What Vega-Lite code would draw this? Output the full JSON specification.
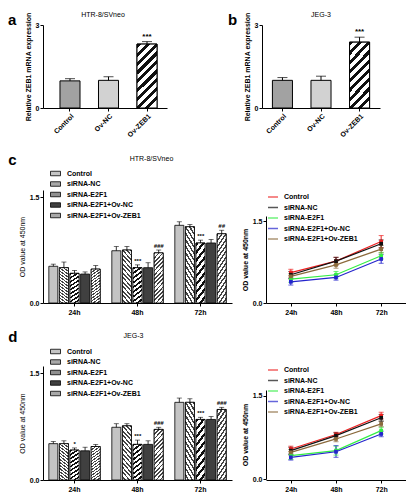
{
"$schema": "https://vega.github.io/schema/vega-lite/v6.json",
"background": "white",
"padding": {"left": 8, "top": 11, "right": 0, "bottom": 0},
"spacing": 15,
"resolve": {"scale": {"color": "independent", "fill": "independent"}, "legend": {"color": "independent", "fill": "independent"}},
"datasets": {
"a": [
{"group": "Control", "value": 0.98, "hi": 1.06, "sig": ""},
{"group": "Ov-NC", "value": 1.0, "hi": 1.13, "sig": ""},
{"group": "Ov-ZEB1", "value": 2.31, "hi": 2.4, "sig": "***"}
],
"b": [
{"group": "Control", "value": 1.0, "hi": 1.1, "sig": ""},
{"group": "Ov-NC", "value": 1.0, "hi": 1.15, "sig": ""},
{"group": "Ov-ZEB1", "value": 2.38, "hi": 2.56, "sig": "***"}
],
"cbar": [
{"time": "24h", "group": "Control", "value": 0.52, "hi": 0.55, "sig": ""},
{"time": "24h", "group": "siRNA-NC", "value": 0.50, "hi": 0.58, "sig": ""},
{"time": "24h", "group": "siRNA-E2F1", "value": 0.42, "hi": 0.46, "sig": ""},
{"time": "24h", "group": "siRNA-E2F1+Ov-NC", "value": 0.41, "hi": 0.44, "sig": ""},
{"time": "24h", "group": "siRNA-E2F1+Ov-ZEB1", "value": 0.48, "hi": 0.53, "sig": ""},
{"time": "48h", "group": "Control", "value": 0.74, "hi": 0.80, "sig": ""},
{"time": "48h", "group": "siRNA-NC", "value": 0.75, "hi": 0.80, "sig": ""},
{"time": "48h", "group": "siRNA-E2F1", "value": 0.50, "hi": 0.54, "sig": "***"},
{"time": "48h", "group": "siRNA-E2F1+Ov-NC", "value": 0.50, "hi": 0.57, "sig": ""},
{"time": "48h", "group": "siRNA-E2F1+Ov-ZEB1", "value": 0.71, "hi": 0.75, "sig": "###"},
{"time": "72h", "group": "Control", "value": 1.10, "hi": 1.15, "sig": ""},
{"time": "72h", "group": "siRNA-NC", "value": 1.08, "hi": 1.11, "sig": ""},
{"time": "72h", "group": "siRNA-E2F1", "value": 0.85, "hi": 0.89, "sig": "***"},
{"time": "72h", "group": "siRNA-E2F1+Ov-NC", "value": 0.85, "hi": 0.90, "sig": ""},
{"time": "72h", "group": "siRNA-E2F1+Ov-ZEB1", "value": 0.98, "hi": 1.03, "sig": "##"}
],
"dbar": [
{"time": "24h", "group": "Control", "value": 0.51, "hi": 0.54, "sig": ""},
{"time": "24h", "group": "siRNA-NC", "value": 0.51, "hi": 0.55, "sig": ""},
{"time": "24h", "group": "siRNA-E2F1", "value": 0.42, "hi": 0.45, "sig": "*"},
{"time": "24h", "group": "siRNA-E2F1+Ov-NC", "value": 0.41, "hi": 0.46, "sig": ""},
{"time": "24h", "group": "siRNA-E2F1+Ov-ZEB1", "value": 0.47, "hi": 0.50, "sig": ""},
{"time": "48h", "group": "Control", "value": 0.74, "hi": 0.79, "sig": ""},
{"time": "48h", "group": "siRNA-NC", "value": 0.76, "hi": 0.79, "sig": ""},
{"time": "48h", "group": "siRNA-E2F1", "value": 0.50, "hi": 0.56, "sig": "***"},
{"time": "48h", "group": "siRNA-E2F1+Ov-NC", "value": 0.50, "hi": 0.55, "sig": ""},
{"time": "48h", "group": "siRNA-E2F1+Ov-ZEB1", "value": 0.71, "hi": 0.74, "sig": "###"},
{"time": "72h", "group": "Control", "value": 1.09, "hi": 1.15, "sig": ""},
{"time": "72h", "group": "siRNA-NC", "value": 1.09, "hi": 1.14, "sig": ""},
{"time": "72h", "group": "siRNA-E2F1", "value": 0.85, "hi": 0.88, "sig": "***"},
{"time": "72h", "group": "siRNA-E2F1+Ov-NC", "value": 0.85, "hi": 0.89, "sig": ""},
{"time": "72h", "group": "siRNA-E2F1+Ov-ZEB1", "value": 0.99, "hi": 1.02, "sig": "###"}
],
"cline": [
{"time": "24h", "group": "Control", "value": 0.56, "lo": 0.50, "hi": 0.62},
{"time": "48h", "group": "Control", "value": 0.77, "lo": 0.70, "hi": 0.84},
{"time": "72h", "group": "Control", "value": 1.13, "lo": 1.02, "hi": 1.24},
{"time": "24h", "group": "siRNA-NC", "value": 0.52, "lo": 0.46, "hi": 0.58},
{"time": "48h", "group": "siRNA-NC", "value": 0.77, "lo": 0.70, "hi": 0.84},
{"time": "72h", "group": "siRNA-NC", "value": 1.09, "lo": 1.01, "hi": 1.16},
{"time": "24h", "group": "siRNA-E2F1", "value": 0.44, "lo": 0.38, "hi": 0.50},
{"time": "48h", "group": "siRNA-E2F1", "value": 0.52, "lo": 0.46, "hi": 0.58},
{"time": "72h", "group": "siRNA-E2F1", "value": 0.87, "lo": 0.81, "hi": 0.93},
{"time": "24h", "group": "siRNA-E2F1+Ov-NC", "value": 0.39, "lo": 0.33, "hi": 0.45},
{"time": "48h", "group": "siRNA-E2F1+Ov-NC", "value": 0.47, "lo": 0.42, "hi": 0.52},
{"time": "72h", "group": "siRNA-E2F1+Ov-NC", "value": 0.81, "lo": 0.73, "hi": 0.89},
{"time": "24h", "group": "siRNA-E2F1+Ov-ZEB1", "value": 0.49, "lo": 0.44, "hi": 0.54},
{"time": "48h", "group": "siRNA-E2F1+Ov-ZEB1", "value": 0.70, "lo": 0.64, "hi": 0.76},
{"time": "72h", "group": "siRNA-E2F1+Ov-ZEB1", "value": 0.99, "lo": 0.92, "hi": 1.06}
],
"dline": [
{"time": "24h", "group": "Control", "value": 0.54, "lo": 0.49, "hi": 0.59},
{"time": "48h", "group": "Control", "value": 0.80, "lo": 0.76, "hi": 0.84},
{"time": "72h", "group": "Control", "value": 1.14, "lo": 1.08, "hi": 1.20},
{"time": "24h", "group": "siRNA-NC", "value": 0.51, "lo": 0.45, "hi": 0.57},
{"time": "48h", "group": "siRNA-NC", "value": 0.78, "lo": 0.73, "hi": 0.83},
{"time": "72h", "group": "siRNA-NC", "value": 1.10, "lo": 1.04, "hi": 1.16},
{"time": "24h", "group": "siRNA-E2F1", "value": 0.42, "lo": 0.35, "hi": 0.49},
{"time": "48h", "group": "siRNA-E2F1", "value": 0.51, "lo": 0.43, "hi": 0.59},
{"time": "72h", "group": "siRNA-E2F1", "value": 0.87, "lo": 0.81, "hi": 0.93},
{"time": "24h", "group": "siRNA-E2F1+Ov-NC", "value": 0.39, "lo": 0.34, "hi": 0.44},
{"time": "48h", "group": "siRNA-E2F1+Ov-NC", "value": 0.49, "lo": 0.39, "hi": 0.60},
{"time": "72h", "group": "siRNA-E2F1+Ov-NC", "value": 0.81, "lo": 0.76, "hi": 0.86},
{"time": "24h", "group": "siRNA-E2F1+Ov-ZEB1", "value": 0.48, "lo": 0.43, "hi": 0.53},
{"time": "48h", "group": "siRNA-E2F1+Ov-ZEB1", "value": 0.72, "lo": 0.67, "hi": 0.77},
{"time": "72h", "group": "siRNA-E2F1+Ov-ZEB1", "value": 0.99, "lo": 0.94, "hi": 1.04}
]
},
"config": {
"view": {"stroke": null},
"font": "Liberation Sans",
"axis": {"domainColor": "#000", "tickColor": "#000", "labelColor": "#000", "titleColor": "#000", "labelFontSize": 7, "labelFontWeight": "bold", "titleFontSize": 7, "titleFontWeight": "bold", "tickSize": 3, "grid": false, "labelPadding": 1, "titlePadding": 4, "domainWidth": 1, "tickWidth": 1, "labelFont": "Liberation Sans", "titleFont": "Liberation Sans"},
"title": {"fontSize": 7, "fontWeight": "normal", "color": "#000", "font": "Liberation Sans"},
"legend": {"labelFontSize": 7, "labelFontWeight": "bold", "labelColor": "#000", "labelFont": "Liberation Sans"}
},
"vconcat": [
{
"title": {"text": "a", "anchor": "start", "frame": "bounds", "fontSize": 15, "fontWeight": "bold", "dx": -16, "offset": -17},
"spacing": 61,
"resolve": {"scale": {"color": "independent", "fill": "independent"}, "legend": {"color": "independent", "fill": "independent"}},
"hconcat": [
{
"width": 124, "height": 83,
"data": {"name": "a"},
"title": {"text": "HTR-8/SVneo", "frame": "group", "offset": -6, "dx": -2},
"encoding": {"x": {"field": "group", "type": "nominal", "sort": ["Control", "Ov-NC", "Ov-ZEB1"], "scale": {"paddingInner": 0.48, "paddingOuter": 0.35, "align": 0.63}, "axis": {"title": null, "labelAngle": -45}}},
"layer": [
{"mark": {"type": "bar", "stroke": "#000", "strokeWidth": 1}, "encoding": {"y": {"field": "value", "type": "quantitative", "scale": {"domain": [0, 3]}, "axis": {"values": [0, 1, 2, 3]}, "title": "Relative ZEB1 mRNA expression"}, "fill": {"field": "group", "type": "nominal", "scale": {"domain": ["Control", "Ov-NC", "Ov-ZEB1"], "range": ["#a2a2a2", "#d2d2d2", "#8a8a8a"]}, "legend": null}}},
{"transform": [{"filter": {"field": "group", "equal": "Ov-ZEB1"}}], "mark": {"type": "bar", "stroke": "#000", "strokeWidth": 1, "fill": {"gradient": "linear", "x1": 0, "y1": 0, "x2": 0.36, "y2": 1.15, "stops": [{"offset": 0, "color": "#111"}, {"offset": 0.05, "color": "#111"}, {"offset": 0.05, "color": "#fff"}, {"offset": 0.111, "color": "#fff"}, {"offset": 0.111, "color": "#111"}, {"offset": 0.161, "color": "#111"}, {"offset": 0.161, "color": "#fff"}, {"offset": 0.222, "color": "#fff"}, {"offset": 0.222, "color": "#111"}, {"offset": 0.272, "color": "#111"}, {"offset": 0.272, "color": "#fff"}, {"offset": 0.333, "color": "#fff"}, {"offset": 0.333, "color": "#111"}, {"offset": 0.383, "color": "#111"}, {"offset": 0.383, "color": "#fff"}, {"offset": 0.444, "color": "#fff"}, {"offset": 0.444, "color": "#111"}, {"offset": 0.494, "color": "#111"}, {"offset": 0.494, "color": "#fff"}, {"offset": 0.556, "color": "#fff"}, {"offset": 0.556, "color": "#111"}, {"offset": 0.606, "color": "#111"}, {"offset": 0.606, "color": "#fff"}, {"offset": 0.667, "color": "#fff"}, {"offset": 0.667, "color": "#111"}, {"offset": 0.717, "color": "#111"}, {"offset": 0.717, "color": "#fff"}, {"offset": 0.778, "color": "#fff"}, {"offset": 0.778, "color": "#111"}, {"offset": 0.828, "color": "#111"}, {"offset": 0.828, "color": "#fff"}, {"offset": 0.889, "color": "#fff"}, {"offset": 0.889, "color": "#111"}, {"offset": 0.939, "color": "#111"}, {"offset": 0.939, "color": "#fff"}, {"offset": 1, "color": "#fff"}]}}, "encoding": {"y": {"field": "value", "type": "quantitative", "title": "Relative ZEB1 mRNA expression"}}},
{"mark": {"type": "rule", "color": "#000"}, "encoding": {"y": {"field": "value", "type": "quantitative", "title": "Relative ZEB1 mRNA expression"}, "y2": {"field": "hi"}}},
{"mark": {"type": "tick", "color": "#000", "thickness": 1, "size": 10}, "encoding": {"y": {"field": "hi", "type": "quantitative", "title": "Relative ZEB1 mRNA expression"}}},
{"mark": {"type": "text", "baseline": "bottom", "dy": -1, "fontSize": 8, "fontWeight": "bold"}, "encoding": {"y": {"field": "hi", "type": "quantitative", "title": "Relative ZEB1 mRNA expression"}, "text": {"field": "sig"}}}
]
},
{
"title": {"text": "b", "anchor": "start", "frame": "bounds", "fontSize": 15, "fontWeight": "bold", "dx": -15, "offset": -17},
"resolve": {"scale": {"color": "independent", "fill": "independent"}, "legend": {"color": "independent", "fill": "independent"}},
"vconcat": [
{
"width": 118, "height": 83,
"data": {"name": "b"},
"title": {"text": "JEG-3", "frame": "group", "offset": -6},
"encoding": {"x": {"field": "group", "type": "nominal", "sort": ["Control", "Ov-NC", "Ov-ZEB1"], "scale": {"paddingInner": 0.48, "paddingOuter": 0.27}, "axis": {"title": null, "labelAngle": -45}}},
"layer": [
{"mark": {"type": "bar", "stroke": "#000", "strokeWidth": 1}, "encoding": {"y": {"field": "value", "type": "quantitative", "scale": {"domain": [0, 3]}, "axis": {"values": [0, 1, 2, 3]}, "title": "Relative ZEB1 mRNA expression"}, "fill": {"field": "group", "type": "nominal", "scale": {"domain": ["Control", "Ov-NC", "Ov-ZEB1"], "range": ["#a2a2a2", "#d2d2d2", "#8a8a8a"]}, "legend": null}}},
{"transform": [{"filter": {"field": "group", "equal": "Ov-ZEB1"}}], "mark": {"type": "bar", "stroke": "#000", "strokeWidth": 1, "fill": {"gradient": "linear", "x1": 0, "y1": 0, "x2": 0.36, "y2": 1.15, "stops": [{"offset": 0, "color": "#111"}, {"offset": 0.05, "color": "#111"}, {"offset": 0.05, "color": "#fff"}, {"offset": 0.111, "color": "#fff"}, {"offset": 0.111, "color": "#111"}, {"offset": 0.161, "color": "#111"}, {"offset": 0.161, "color": "#fff"}, {"offset": 0.222, "color": "#fff"}, {"offset": 0.222, "color": "#111"}, {"offset": 0.272, "color": "#111"}, {"offset": 0.272, "color": "#fff"}, {"offset": 0.333, "color": "#fff"}, {"offset": 0.333, "color": "#111"}, {"offset": 0.383, "color": "#111"}, {"offset": 0.383, "color": "#fff"}, {"offset": 0.444, "color": "#fff"}, {"offset": 0.444, "color": "#111"}, {"offset": 0.494, "color": "#111"}, {"offset": 0.494, "color": "#fff"}, {"offset": 0.556, "color": "#fff"}, {"offset": 0.556, "color": "#111"}, {"offset": 0.606, "color": "#111"}, {"offset": 0.606, "color": "#fff"}, {"offset": 0.667, "color": "#fff"}, {"offset": 0.667, "color": "#111"}, {"offset": 0.717, "color": "#111"}, {"offset": 0.717, "color": "#fff"}, {"offset": 0.778, "color": "#fff"}, {"offset": 0.778, "color": "#111"}, {"offset": 0.828, "color": "#111"}, {"offset": 0.828, "color": "#fff"}, {"offset": 0.889, "color": "#fff"}, {"offset": 0.889, "color": "#111"}, {"offset": 0.939, "color": "#111"}, {"offset": 0.939, "color": "#fff"}, {"offset": 1, "color": "#fff"}]}}, "encoding": {"y": {"field": "value", "type": "quantitative", "title": "Relative ZEB1 mRNA expression"}}},
{"mark": {"type": "rule", "color": "#000"}, "encoding": {"y": {"field": "value", "type": "quantitative", "title": "Relative ZEB1 mRNA expression"}, "y2": {"field": "hi"}}},
{"mark": {"type": "tick", "color": "#000", "thickness": 1, "size": 10}, "encoding": {"y": {"field": "hi", "type": "quantitative", "title": "Relative ZEB1 mRNA expression"}}},
{"mark": {"type": "text", "baseline": "bottom", "dy": -1, "fontSize": 8, "fontWeight": "bold"}, "encoding": {"y": {"field": "hi", "type": "quantitative", "title": "Relative ZEB1 mRNA expression"}, "text": {"field": "sig"}}}
]
}
]
}
]
},
{
"title": {"text": "c", "anchor": "start", "frame": "bounds", "fontSize": 15, "fontWeight": "bold", "dx": -10, "offset": -13},
"spacing": 9,
"resolve": {"scale": {"color": "independent", "fill": "independent"}, "legend": {"color": "independent", "fill": "independent"}},
"hconcat": [
{
"width": 189, "height": 113,
"data": {"name": "cbar"},
"title": {"text": "HTR-8/SVneo", "frame": "group", "offset": 6, "dx": 14},
"encoding": {
"x": {"field": "time", "type": "nominal", "scale": {"paddingInner": 0, "paddingOuter": 0}, "axis": {"title": null, "labelAngle": 0, "labelPadding": 2}},
"xOffset": {"field": "group", "type": "nominal", "sort": ["Control", "siRNA-NC", "siRNA-E2F1", "siRNA-E2F1+Ov-NC", "siRNA-E2F1+Ov-ZEB1"], "scale": {"domain": ["Control", "siRNA-NC", "siRNA-E2F1", "siRNA-E2F1+Ov-NC", "siRNA-E2F1+Ov-ZEB1"], "paddingInner": 0.15, "paddingOuter": 0.55}}
},
"layer": [
{"mark": {"type": "bar", "stroke": "#000", "strokeWidth": 0.8}, "encoding": {"y": {"field": "value", "type": "quantitative", "scale": {"domain": [0, 1.5]}, "axis": {"values": [0, 0.5, 1, 1.5], "format": ".1f", "titleFontWeight": "normal"}, "title": "OD value at 450nm"}, "fill": {"field": "group", "type": "nominal", "scale": {"domain": ["Control", "siRNA-NC", "siRNA-E2F1", "siRNA-E2F1+Ov-NC", "siRNA-E2F1+Ov-ZEB1"], "range": ["#c4c4c4", "#a8a8a8", "#909090", "#404040", "#a8a8a8"]}, "legend": {"title": null, "orient": "none", "legendX": 7, "legendY": -22, "symbolType": "M-1,-0.45L1,-0.45L1,0.45L-1,0.45Z", "symbolSize": 100, "symbolStrokeColor": "#000", "symbolStrokeWidth": 0.8, "rowPadding": 0.5, "labelOffset": 6}}}},
{"transform": [{"filter": {"field": "group", "equal": "siRNA-NC"}}], "mark": {"type": "bar", "stroke": "#000", "strokeWidth": 0.8, "fill": {"gradient": "linear", "x1": 1, "y1": 0, "x2": 0.78, "y2": 1.15, "stops": [{"offset": 0, "color": "#444"}, {"offset": 0.03, "color": "#444"}, {"offset": 0.03, "color": "#fff"}, {"offset": 0.0714, "color": "#fff"}, {"offset": 0.0714, "color": "#444"}, {"offset": 0.1014, "color": "#444"}, {"offset": 0.1014, "color": "#fff"}, {"offset": 0.1429, "color": "#fff"}, {"offset": 0.1429, "color": "#444"}, {"offset": 0.1729, "color": "#444"}, {"offset": 0.1729, "color": "#fff"}, {"offset": 0.2143, "color": "#fff"}, {"offset": 0.2143, "color": "#444"}, {"offset": 0.2443, "color": "#444"}, {"offset": 0.2443, "color": "#fff"}, {"offset": 0.2857, "color": "#fff"}, {"offset": 0.2857, "color": "#444"}, {"offset": 0.3157, "color": "#444"}, {"offset": 0.3157, "color": "#fff"}, {"offset": 0.3571, "color": "#fff"}, {"offset": 0.3571, "color": "#444"}, {"offset": 0.3871, "color": "#444"}, {"offset": 0.3871, "color": "#fff"}, {"offset": 0.4286, "color": "#fff"}, {"offset": 0.4286, "color": "#444"}, {"offset": 0.4586, "color": "#444"}, {"offset": 0.4586, "color": "#fff"}, {"offset": 0.5, "color": "#fff"}, {"offset": 0.5, "color": "#444"}, {"offset": 0.53, "color": "#444"}, {"offset": 0.53, "color": "#fff"}, {"offset": 0.5714, "color": "#fff"}, {"offset": 0.5714, "color": "#444"}, {"offset": 0.6014, "color": "#444"}, {"offset": 0.6014, "color": "#fff"}, {"offset": 0.6429, "color": "#fff"}, {"offset": 0.6429, "color": "#444"}, {"offset": 0.6729, "color": "#444"}, {"offset": 0.6729, "color": "#fff"}, {"offset": 0.7143, "color": "#fff"}, {"offset": 0.7143, "color": "#444"}, {"offset": 0.7443, "color": "#444"}, {"offset": 0.7443, "color": "#fff"}, {"offset": 0.7857, "color": "#fff"}, {"offset": 0.7857, "color": "#444"}, {"offset": 0.8157, "color": "#444"}, {"offset": 0.8157, "color": "#fff"}, {"offset": 0.8571, "color": "#fff"}, {"offset": 0.8571, "color": "#444"}, {"offset": 0.8871, "color": "#444"}, {"offset": 0.8871, "color": "#fff"}, {"offset": 0.9286, "color": "#fff"}, {"offset": 0.9286, "color": "#444"}, {"offset": 0.9586, "color": "#444"}, {"offset": 0.9586, "color": "#fff"}, {"offset": 1, "color": "#fff"}]}}, "encoding": {"y": {"field": "value", "type": "quantitative", "title": "OD value at 450nm"}}},
{"transform": [{"filter": {"field": "group", "equal": "siRNA-E2F1"}}], "mark": {"type": "bar", "stroke": "#000", "strokeWidth": 0.8, "fill": {"gradient": "linear", "x1": 0, "y1": 0, "x2": 0.22, "y2": 1.15, "stops": [{"offset": 0, "color": "#111"}, {"offset": 0.05, "color": "#111"}, {"offset": 0.05, "color": "#fff"}, {"offset": 0.111, "color": "#fff"}, {"offset": 0.111, "color": "#111"}, {"offset": 0.161, "color": "#111"}, {"offset": 0.161, "color": "#fff"}, {"offset": 0.222, "color": "#fff"}, {"offset": 0.222, "color": "#111"}, {"offset": 0.272, "color": "#111"}, {"offset": 0.272, "color": "#fff"}, {"offset": 0.333, "color": "#fff"}, {"offset": 0.333, "color": "#111"}, {"offset": 0.383, "color": "#111"}, {"offset": 0.383, "color": "#fff"}, {"offset": 0.444, "color": "#fff"}, {"offset": 0.444, "color": "#111"}, {"offset": 0.494, "color": "#111"}, {"offset": 0.494, "color": "#fff"}, {"offset": 0.556, "color": "#fff"}, {"offset": 0.556, "color": "#111"}, {"offset": 0.606, "color": "#111"}, {"offset": 0.606, "color": "#fff"}, {"offset": 0.667, "color": "#fff"}, {"offset": 0.667, "color": "#111"}, {"offset": 0.717, "color": "#111"}, {"offset": 0.717, "color": "#fff"}, {"offset": 0.778, "color": "#fff"}, {"offset": 0.778, "color": "#111"}, {"offset": 0.828, "color": "#111"}, {"offset": 0.828, "color": "#fff"}, {"offset": 0.889, "color": "#fff"}, {"offset": 0.889, "color": "#111"}, {"offset": 0.939, "color": "#111"}, {"offset": 0.939, "color": "#fff"}, {"offset": 1, "color": "#fff"}]}}, "encoding": {"y": {"field": "value", "type": "quantitative", "title": "OD value at 450nm"}}},
{"transform": [{"filter": {"field": "group", "equal": "siRNA-E2F1+Ov-ZEB1"}}], "mark": {"type": "bar", "stroke": "#000", "strokeWidth": 0.8, "fill": {"gradient": "linear", "x1": 0, "y1": 0, "x2": 0.22, "y2": 1.15, "stops": [{"offset": 0, "color": "#444"}, {"offset": 0.03, "color": "#444"}, {"offset": 0.03, "color": "#fff"}, {"offset": 0.0714, "color": "#fff"}, {"offset": 0.0714, "color": "#444"}, {"offset": 0.1014, "color": "#444"}, {"offset": 0.1014, "color": "#fff"}, {"offset": 0.1429, "color": "#fff"}, {"offset": 0.1429, "color": "#444"}, {"offset": 0.1729, "color": "#444"}, {"offset": 0.1729, "color": "#fff"}, {"offset": 0.2143, "color": "#fff"}, {"offset": 0.2143, "color": "#444"}, {"offset": 0.2443, "color": "#444"}, {"offset": 0.2443, "color": "#fff"}, {"offset": 0.2857, "color": "#fff"}, {"offset": 0.2857, "color": "#444"}, {"offset": 0.3157, "color": "#444"}, {"offset": 0.3157, "color": "#fff"}, {"offset": 0.3571, "color": "#fff"}, {"offset": 0.3571, "color": "#444"}, {"offset": 0.3871, "color": "#444"}, {"offset": 0.3871, "color": "#fff"}, {"offset": 0.4286, "color": "#fff"}, {"offset": 0.4286, "color": "#444"}, {"offset": 0.4586, "color": "#444"}, {"offset": 0.4586, "color": "#fff"}, {"offset": 0.5, "color": "#fff"}, {"offset": 0.5, "color": "#444"}, {"offset": 0.53, "color": "#444"}, {"offset": 0.53, "color": "#fff"}, {"offset": 0.5714, "color": "#fff"}, {"offset": 0.5714, "color": "#444"}, {"offset": 0.6014, "color": "#444"}, {"offset": 0.6014, "color": "#fff"}, {"offset": 0.6429, "color": "#fff"}, {"offset": 0.6429, "color": "#444"}, {"offset": 0.6729, "color": "#444"}, {"offset": 0.6729, "color": "#fff"}, {"offset": 0.7143, "color": "#fff"}, {"offset": 0.7143, "color": "#444"}, {"offset": 0.7443, "color": "#444"}, {"offset": 0.7443, "color": "#fff"}, {"offset": 0.7857, "color": "#fff"}, {"offset": 0.7857, "color": "#444"}, {"offset": 0.8157, "color": "#444"}, {"offset": 0.8157, "color": "#fff"}, {"offset": 0.8571, "color": "#fff"}, {"offset": 0.8571, "color": "#444"}, {"offset": 0.8871, "color": "#444"}, {"offset": 0.8871, "color": "#fff"}, {"offset": 0.9286, "color": "#fff"}, {"offset": 0.9286, "color": "#444"}, {"offset": 0.9586, "color": "#444"}, {"offset": 0.9586, "color": "#fff"}, {"offset": 1, "color": "#fff"}]}}, "encoding": {"y": {"field": "value", "type": "quantitative", "title": "OD value at 450nm"}}},
{"mark": {"type": "rule", "color": "#000", "strokeWidth": 0.8}, "encoding": {"y": {"field": "value", "type": "quantitative", "title": "OD value at 450nm"}, "y2": {"field": "hi"}}},
{"mark": {"type": "tick", "color": "#000", "thickness": 0.8, "size": 5}, "encoding": {"y": {"field": "hi", "type": "quantitative", "title": "OD value at 450nm"}}},
{"mark": {"type": "text", "baseline": "bottom", "dy": -1, "fontSize": 6, "fontWeight": "bold", "fontStyle": "italic"}, "encoding": {"y": {"field": "hi", "type": "quantitative", "title": "OD value at 450nm"}, "text": {"field": "sig"}}}
]
},
{
"width": 140, "height": 113,
"data": {"name": "cline"},
"encoding": {
"x": {"field": "time", "type": "ordinal", "scale": {"type": "point", "padding": 0.55}, "axis": {"title": null, "labelAngle": 0, "labelPadding": 2}},
"color": {"field": "group", "type": "nominal", "scale": {"domain": ["Control", "siRNA-NC", "siRNA-E2F1", "siRNA-E2F1+Ov-NC", "siRNA-E2F1+Ov-ZEB1"], "range": ["#ee2020", "#111111", "#33ee44", "#2424cc", "#8b6a3c"]}, "legend": {"title": null, "orient": "none", "legendX": 1, "legendY": 1, "symbolType": "stroke", "symbolSize": 100, "symbolStrokeWidth": 1.5, "rowPadding": 1.5, "labelOffset": 5}}
},
"layer": [
{"mark": {"type": "rule", "strokeWidth": 1}, "encoding": {"y": {"field": "lo", "type": "quantitative", "scale": {"domain": [0, 1.5], "range": [113, 26]}, "axis": {"values": [0, 0.5, 1, 1.5], "format": ".1f"}, "title": "OD value at 450nm"}, "y2": {"field": "hi"}}},
{"mark": {"type": "tick", "thickness": 1, "size": 5}, "encoding": {"y": {"field": "hi", "type": "quantitative", "title": "OD value at 450nm"}}},
{"mark": {"type": "tick", "thickness": 1, "size": 5}, "encoding": {"y": {"field": "lo", "type": "quantitative", "title": "OD value at 450nm"}}},
{"mark": {"type": "line", "strokeWidth": 1.2}, "encoding": {"y": {"field": "value", "type": "quantitative", "title": "OD value at 450nm"}}},
{"mark": {"type": "point", "filled": true, "shape": "square", "size": 14, "opacity": 1}, "encoding": {"y": {"field": "value", "type": "quantitative", "title": "OD value at 450nm"}}}
]
}
]
},
{
"title": {"text": "d", "anchor": "start", "frame": "bounds", "fontSize": 15, "fontWeight": "bold", "dx": -10, "offset": -13},
"spacing": 9,
"resolve": {"scale": {"color": "independent", "fill": "independent"}, "legend": {"color": "independent", "fill": "independent"}},
"hconcat": [
{
"width": 189, "height": 114,
"data": {"name": "dbar"},
"title": {"text": "JEG-3", "frame": "group", "offset": 7, "dx": -4},
"encoding": {
"x": {"field": "time", "type": "nominal", "scale": {"paddingInner": 0, "paddingOuter": 0}, "axis": {"title": null, "labelAngle": 0, "labelPadding": 2}},
"xOffset": {"field": "group", "type": "nominal", "sort": ["Control", "siRNA-NC", "siRNA-E2F1", "siRNA-E2F1+Ov-NC", "siRNA-E2F1+Ov-ZEB1"], "scale": {"domain": ["Control", "siRNA-NC", "siRNA-E2F1", "siRNA-E2F1+Ov-NC", "siRNA-E2F1+Ov-ZEB1"], "paddingInner": 0.15, "paddingOuter": 0.55}}
},
"layer": [
{"mark": {"type": "bar", "stroke": "#000", "strokeWidth": 0.8}, "encoding": {"y": {"field": "value", "type": "quantitative", "scale": {"domain": [0, 1.5]}, "axis": {"values": [0, 0.5, 1, 1.5], "format": ".1f", "titleFontWeight": "normal"}, "title": "OD value at 450nm"}, "fill": {"field": "group", "type": "nominal", "scale": {"domain": ["Control", "siRNA-NC", "siRNA-E2F1", "siRNA-E2F1+Ov-NC", "siRNA-E2F1+Ov-ZEB1"], "range": ["#c4c4c4", "#a8a8a8", "#909090", "#404040", "#a8a8a8"]}, "legend": {"title": null, "orient": "none", "legendX": 7, "legendY": -20, "symbolType": "M-1,-0.45L1,-0.45L1,0.45L-1,0.45Z", "symbolSize": 100, "symbolStrokeColor": "#000", "symbolStrokeWidth": 0.8, "rowPadding": 0.5, "labelOffset": 6}}}},
{"transform": [{"filter": {"field": "group", "equal": "siRNA-NC"}}], "mark": {"type": "bar", "stroke": "#000", "strokeWidth": 0.8, "fill": {"gradient": "linear", "x1": 1, "y1": 0, "x2": 0.78, "y2": 1.15, "stops": [{"offset": 0, "color": "#444"}, {"offset": 0.03, "color": "#444"}, {"offset": 0.03, "color": "#fff"}, {"offset": 0.0714, "color": "#fff"}, {"offset": 0.0714, "color": "#444"}, {"offset": 0.1014, "color": "#444"}, {"offset": 0.1014, "color": "#fff"}, {"offset": 0.1429, "color": "#fff"}, {"offset": 0.1429, "color": "#444"}, {"offset": 0.1729, "color": "#444"}, {"offset": 0.1729, "color": "#fff"}, {"offset": 0.2143, "color": "#fff"}, {"offset": 0.2143, "color": "#444"}, {"offset": 0.2443, "color": "#444"}, {"offset": 0.2443, "color": "#fff"}, {"offset": 0.2857, "color": "#fff"}, {"offset": 0.2857, "color": "#444"}, {"offset": 0.3157, "color": "#444"}, {"offset": 0.3157, "color": "#fff"}, {"offset": 0.3571, "color": "#fff"}, {"offset": 0.3571, "color": "#444"}, {"offset": 0.3871, "color": "#444"}, {"offset": 0.3871, "color": "#fff"}, {"offset": 0.4286, "color": "#fff"}, {"offset": 0.4286, "color": "#444"}, {"offset": 0.4586, "color": "#444"}, {"offset": 0.4586, "color": "#fff"}, {"offset": 0.5, "color": "#fff"}, {"offset": 0.5, "color": "#444"}, {"offset": 0.53, "color": "#444"}, {"offset": 0.53, "color": "#fff"}, {"offset": 0.5714, "color": "#fff"}, {"offset": 0.5714, "color": "#444"}, {"offset": 0.6014, "color": "#444"}, {"offset": 0.6014, "color": "#fff"}, {"offset": 0.6429, "color": "#fff"}, {"offset": 0.6429, "color": "#444"}, {"offset": 0.6729, "color": "#444"}, {"offset": 0.6729, "color": "#fff"}, {"offset": 0.7143, "color": "#fff"}, {"offset": 0.7143, "color": "#444"}, {"offset": 0.7443, "color": "#444"}, {"offset": 0.7443, "color": "#fff"}, {"offset": 0.7857, "color": "#fff"}, {"offset": 0.7857, "color": "#444"}, {"offset": 0.8157, "color": "#444"}, {"offset": 0.8157, "color": "#fff"}, {"offset": 0.8571, "color": "#fff"}, {"offset": 0.8571, "color": "#444"}, {"offset": 0.8871, "color": "#444"}, {"offset": 0.8871, "color": "#fff"}, {"offset": 0.9286, "color": "#fff"}, {"offset": 0.9286, "color": "#444"}, {"offset": 0.9586, "color": "#444"}, {"offset": 0.9586, "color": "#fff"}, {"offset": 1, "color": "#fff"}]}}, "encoding": {"y": {"field": "value", "type": "quantitative", "title": "OD value at 450nm"}}},
{"transform": [{"filter": {"field": "group", "equal": "siRNA-E2F1"}}], "mark": {"type": "bar", "stroke": "#000", "strokeWidth": 0.8, "fill": {"gradient": "linear", "x1": 0, "y1": 0, "x2": 0.22, "y2": 1.15, "stops": [{"offset": 0, "color": "#111"}, {"offset": 0.05, "color": "#111"}, {"offset": 0.05, "color": "#fff"}, {"offset": 0.111, "color": "#fff"}, {"offset": 0.111, "color": "#111"}, {"offset": 0.161, "color": "#111"}, {"offset": 0.161, "color": "#fff"}, {"offset": 0.222, "color": "#fff"}, {"offset": 0.222, "color": "#111"}, {"offset": 0.272, "color": "#111"}, {"offset": 0.272, "color": "#fff"}, {"offset": 0.333, "color": "#fff"}, {"offset": 0.333, "color": "#111"}, {"offset": 0.383, "color": "#111"}, {"offset": 0.383, "color": "#fff"}, {"offset": 0.444, "color": "#fff"}, {"offset": 0.444, "color": "#111"}, {"offset": 0.494, "color": "#111"}, {"offset": 0.494, "color": "#fff"}, {"offset": 0.556, "color": "#fff"}, {"offset": 0.556, "color": "#111"}, {"offset": 0.606, "color": "#111"}, {"offset": 0.606, "color": "#fff"}, {"offset": 0.667, "color": "#fff"}, {"offset": 0.667, "color": "#111"}, {"offset": 0.717, "color": "#111"}, {"offset": 0.717, "color": "#fff"}, {"offset": 0.778, "color": "#fff"}, {"offset": 0.778, "color": "#111"}, {"offset": 0.828, "color": "#111"}, {"offset": 0.828, "color": "#fff"}, {"offset": 0.889, "color": "#fff"}, {"offset": 0.889, "color": "#111"}, {"offset": 0.939, "color": "#111"}, {"offset": 0.939, "color": "#fff"}, {"offset": 1, "color": "#fff"}]}}, "encoding": {"y": {"field": "value", "type": "quantitative", "title": "OD value at 450nm"}}},
{"transform": [{"filter": {"field": "group", "equal": "siRNA-E2F1+Ov-ZEB1"}}], "mark": {"type": "bar", "stroke": "#000", "strokeWidth": 0.8, "fill": {"gradient": "linear", "x1": 0, "y1": 0, "x2": 0.22, "y2": 1.15, "stops": [{"offset": 0, "color": "#444"}, {"offset": 0.03, "color": "#444"}, {"offset": 0.03, "color": "#fff"}, {"offset": 0.0714, "color": "#fff"}, {"offset": 0.0714, "color": "#444"}, {"offset": 0.1014, "color": "#444"}, {"offset": 0.1014, "color": "#fff"}, {"offset": 0.1429, "color": "#fff"}, {"offset": 0.1429, "color": "#444"}, {"offset": 0.1729, "color": "#444"}, {"offset": 0.1729, "color": "#fff"}, {"offset": 0.2143, "color": "#fff"}, {"offset": 0.2143, "color": "#444"}, {"offset": 0.2443, "color": "#444"}, {"offset": 0.2443, "color": "#fff"}, {"offset": 0.2857, "color": "#fff"}, {"offset": 0.2857, "color": "#444"}, {"offset": 0.3157, "color": "#444"}, {"offset": 0.3157, "color": "#fff"}, {"offset": 0.3571, "color": "#fff"}, {"offset": 0.3571, "color": "#444"}, {"offset": 0.3871, "color": "#444"}, {"offset": 0.3871, "color": "#fff"}, {"offset": 0.4286, "color": "#fff"}, {"offset": 0.4286, "color": "#444"}, {"offset": 0.4586, "color": "#444"}, {"offset": 0.4586, "color": "#fff"}, {"offset": 0.5, "color": "#fff"}, {"offset": 0.5, "color": "#444"}, {"offset": 0.53, "color": "#444"}, {"offset": 0.53, "color": "#fff"}, {"offset": 0.5714, "color": "#fff"}, {"offset": 0.5714, "color": "#444"}, {"offset": 0.6014, "color": "#444"}, {"offset": 0.6014, "color": "#fff"}, {"offset": 0.6429, "color": "#fff"}, {"offset": 0.6429, "color": "#444"}, {"offset": 0.6729, "color": "#444"}, {"offset": 0.6729, "color": "#fff"}, {"offset": 0.7143, "color": "#fff"}, {"offset": 0.7143, "color": "#444"}, {"offset": 0.7443, "color": "#444"}, {"offset": 0.7443, "color": "#fff"}, {"offset": 0.7857, "color": "#fff"}, {"offset": 0.7857, "color": "#444"}, {"offset": 0.8157, "color": "#444"}, {"offset": 0.8157, "color": "#fff"}, {"offset": 0.8571, "color": "#fff"}, {"offset": 0.8571, "color": "#444"}, {"offset": 0.8871, "color": "#444"}, {"offset": 0.8871, "color": "#fff"}, {"offset": 0.9286, "color": "#fff"}, {"offset": 0.9286, "color": "#444"}, {"offset": 0.9586, "color": "#444"}, {"offset": 0.9586, "color": "#fff"}, {"offset": 1, "color": "#fff"}]}}, "encoding": {"y": {"field": "value", "type": "quantitative", "title": "OD value at 450nm"}}},
{"mark": {"type": "rule", "color": "#000", "strokeWidth": 0.8}, "encoding": {"y": {"field": "value", "type": "quantitative", "title": "OD value at 450nm"}, "y2": {"field": "hi"}}},
{"mark": {"type": "tick", "color": "#000", "thickness": 0.8, "size": 5}, "encoding": {"y": {"field": "hi", "type": "quantitative", "title": "OD value at 450nm"}}},
{"mark": {"type": "text", "baseline": "bottom", "dy": -1, "fontSize": 6, "fontWeight": "bold", "fontStyle": "italic"}, "encoding": {"y": {"field": "hi", "type": "quantitative", "title": "OD value at 450nm"}, "text": {"field": "sig"}}}
]
},
{
"width": 140, "height": 114,
"data": {"name": "dline"},
"encoding": {
"x": {"field": "time", "type": "ordinal", "scale": {"type": "point", "padding": 0.55}, "axis": {"title": null, "labelAngle": 0, "labelPadding": 2}},
"color": {"field": "group", "type": "nominal", "scale": {"domain": ["Control", "siRNA-NC", "siRNA-E2F1", "siRNA-E2F1+Ov-NC", "siRNA-E2F1+Ov-ZEB1"], "range": ["#ee2020", "#111111", "#33ee44", "#2424cc", "#8b6a3c"]}, "legend": {"title": null, "orient": "none", "legendX": 1, "legendY": -2, "symbolType": "stroke", "symbolSize": 100, "symbolStrokeWidth": 1.5, "rowPadding": 1.5, "labelOffset": 5}}
},
"layer": [
{"mark": {"type": "rule", "strokeWidth": 1}, "encoding": {"y": {"field": "lo", "type": "quantitative", "scale": {"domain": [0, 1.5], "range": [113, 24]}, "axis": {"values": [0, 0.5, 1, 1.5], "format": ".1f"}, "title": "OD value at 450nm"}, "y2": {"field": "hi"}}},
{"mark": {"type": "tick", "thickness": 1, "size": 5}, "encoding": {"y": {"field": "hi", "type": "quantitative", "title": "OD value at 450nm"}}},
{"mark": {"type": "tick", "thickness": 1, "size": 5}, "encoding": {"y": {"field": "lo", "type": "quantitative", "title": "OD value at 450nm"}}},
{"mark": {"type": "line", "strokeWidth": 1.2}, "encoding": {"y": {"field": "value", "type": "quantitative", "title": "OD value at 450nm"}}},
{"mark": {"type": "point", "filled": true, "shape": "square", "size": 14, "opacity": 1}, "encoding": {"y": {"field": "value", "type": "quantitative", "title": "OD value at 450nm"}}}
]
}
]
}
]
}
